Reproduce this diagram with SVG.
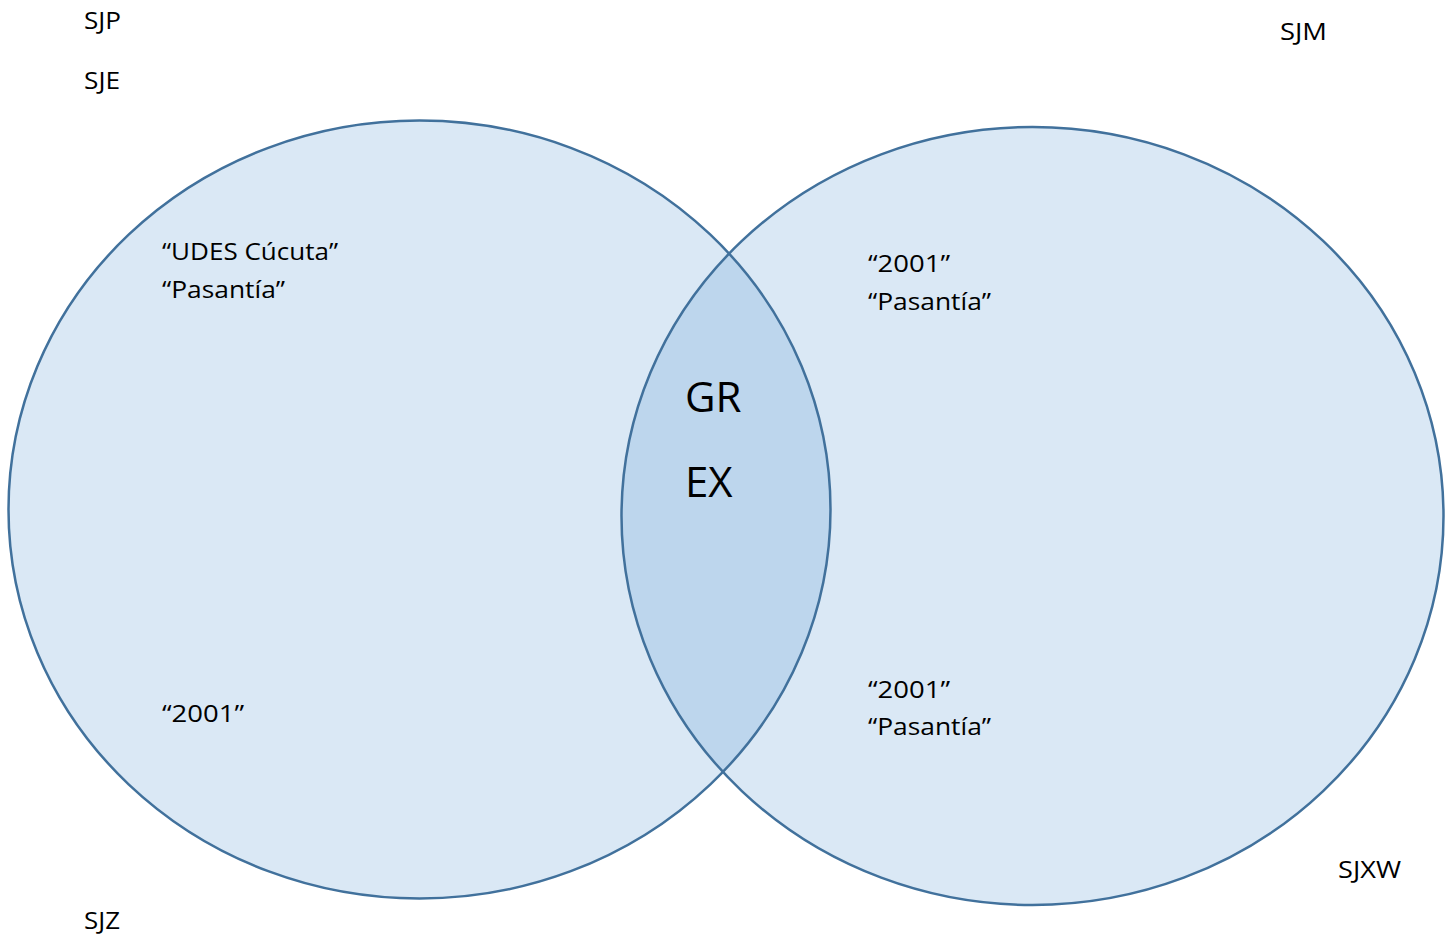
<svg xmlns="http://www.w3.org/2000/svg" width="1453" height="935" viewBox="0 0 1453 935">
<style>
.fill{fill:#dae8f5;stroke:none}
.ov{fill:#bdd6ed;stroke:none}
.edge{fill:none;stroke:#41719c;stroke-width:2.5}
text{font-family:"Open Sans","Noto Sans","Liberation Sans",sans-serif;fill:#000}
.s{font-size:24px}
.b{font-size:42px}
</style>
<defs>
<clipPath id="clipL"><ellipse cx="419.5" cy="509.5" rx="411" ry="389"/></clipPath>
</defs>
<rect width="1453" height="935" fill="#fff"/>
<g id="setLeft"><ellipse class="fill" cx="419.5" cy="509.5" rx="411" ry="389"/></g>
<g id="setRight"><ellipse class="fill" cx="1032.5" cy="516" rx="411" ry="389"/></g>
<g id="overlap"><ellipse class="ov" cx="1032.5" cy="516" rx="411" ry="389" clip-path="url(#clipL)"/></g>
<g id="outlines">
<ellipse class="edge" cx="419.5" cy="509.5" rx="411" ry="389"/>
<ellipse class="edge" cx="1032.5" cy="516" rx="411" ry="389"/>
</g>
<g id="labels">
<text class="s" x="84" y="29" textLength="37" lengthAdjust="spacingAndGlyphs">SJP</text>
<text class="s" x="84" y="89" textLength="36" lengthAdjust="spacingAndGlyphs">SJE</text>
<text class="s" x="1280" y="40" textLength="47" lengthAdjust="spacingAndGlyphs">SJM</text>
<text class="s" x="1338" y="878" textLength="63" lengthAdjust="spacingAndGlyphs">SJXW</text>
<text class="s" x="84" y="929" textLength="36" lengthAdjust="spacingAndGlyphs">SJZ</text>
<text class="s" x="162" y="260" textLength="176" lengthAdjust="spacingAndGlyphs">“UDES Cúcuta”</text>
<text class="s" x="162" y="298" textLength="123" lengthAdjust="spacingAndGlyphs">“Pasantía”</text>
<text class="s" x="162" y="722" textLength="82" lengthAdjust="spacingAndGlyphs">“2001”</text>
<text class="s" x="868" y="272" textLength="82" lengthAdjust="spacingAndGlyphs">“2001”</text>
<text class="s" x="868" y="310" textLength="123" lengthAdjust="spacingAndGlyphs">“Pasantía”</text>
<text class="s" x="868" y="698" textLength="82" lengthAdjust="spacingAndGlyphs">“2001”</text>
<text class="s" x="868" y="735" textLength="123" lengthAdjust="spacingAndGlyphs">“Pasantía”</text>
<text class="b" x="685" y="412">GR</text>
<text class="b" x="685" y="497">EX</text>
</g>
</svg>
